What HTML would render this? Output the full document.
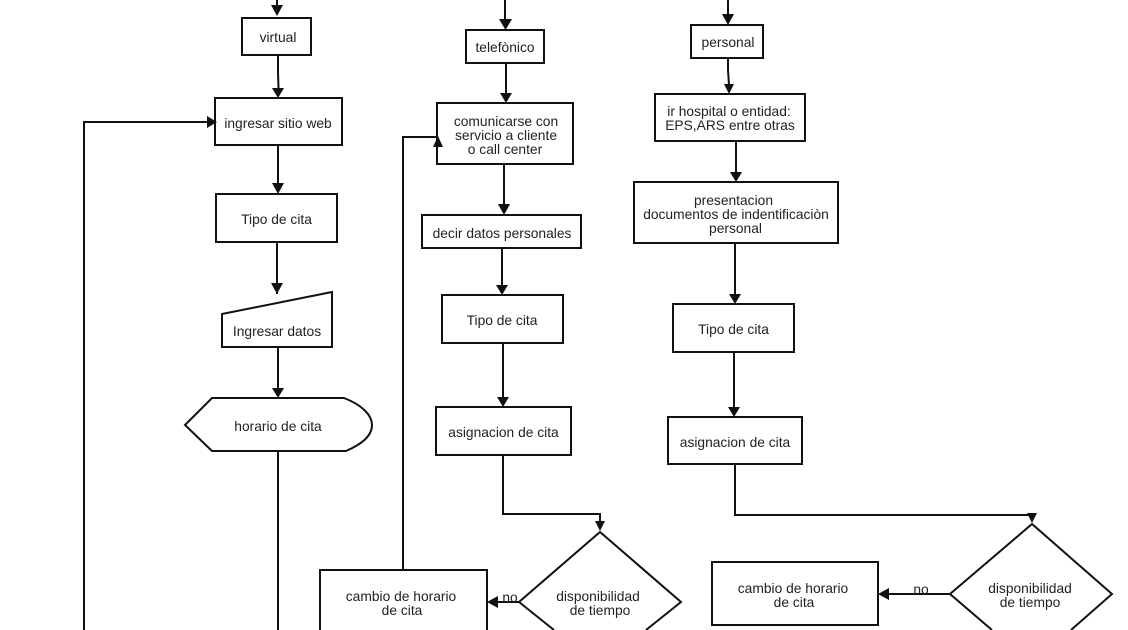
<!DOCTYPE html>
<html><head><meta charset="utf-8"><style>
html,body{margin:0;padding:0;background:#fff;width:1128px;height:630px;overflow:hidden}
svg{display:block}
text{font-family:"Liberation Sans",sans-serif;font-size:13.8px;fill:#222;text-anchor:middle}
.b{fill:#fff;stroke:#111;stroke-width:2}
.l{fill:none;stroke:#111;stroke-width:2}
.a{fill:#111;stroke:none}
</style></head><body>
<svg width="1128" height="630" viewBox="0 0 1128 630" xmlns="http://www.w3.org/2000/svg">
<!-- connectors -->
<path class="l" d="M277 0V8M278 55V72L278.500 88M278 145V184M277 242V294M278 347V390M278 451V630"/>
<path class="l" d="M84 630V122H208"/>
<path class="l" d="M505 0V22M506 63V95M504 164V206M502 248V287M503 343V399M503 455V514H600V522"/>
<path class="l" d="M403 570V137H437"/>
<path class="l" d="M728 0V16M728 58V70L729 85M736 141V173M735 243V295M734 352V408M735 464V515H1032V516"/>
<path class="l" d="M519 602H495M950 594H885"/>
<!-- shapes -->
<rect class="b" x="242" y="18" width="69" height="37"/>
<rect class="b" x="215" y="98" width="127" height="47"/>
<rect class="b" x="216" y="194" width="121" height="48"/>
<path class="b" d="M222 314L332 292V347H222Z"/>
<path class="b" d="M185 425L212 398H344C362 405 372 415 372 425C372 436 362 444 346 451H212Z"/>
<rect class="b" x="466" y="30" width="78" height="33"/>
<rect class="b" x="437" y="103" width="136" height="61"/>
<rect class="b" x="422" y="215" width="159" height="33"/>
<rect class="b" x="442" y="295" width="121" height="48"/>
<rect class="b" x="436" y="407" width="135" height="48"/>
<path class="b" d="M554 630L519 602L600 532L681 602L646 630"/>
<path class="b" d="M320 630V570H487V630"/>
<rect class="b" x="691" y="25" width="72" height="33"/>
<rect class="b" x="655" y="94" width="150" height="47"/>
<rect class="b" x="634" y="182" width="204" height="61"/>
<rect class="b" x="673" y="304" width="121" height="48"/>
<rect class="b" x="668" y="417" width="134" height="47"/>
<path class="b" d="M992 630L950 594L1032 524L1112 594L1071 630"/>
<rect class="b" x="712" y="562" width="166" height="63"/>
<!-- arrowheads -->
<path class="a" d="M271 5H283L277 16ZM272 88H284L278 98ZM272 183H284L278 194ZM271 283H283L277 294ZM272 388H284L278 398Z"/>
<path class="a" d="M207 116V128L217 122Z"/>
<path class="a" d="M499 19H512L505.500 30ZM500 93H512L506 103ZM498 204H510L504 215ZM496 285H508L502 295ZM497 397H509L503 407ZM595 521H605L600 531Z"/>
<path class="a" d="M433 147H443L438 136Z"/>
<path class="a" d="M722 14H734L728 25ZM724 84H734L729 94ZM730 172H742L736 182ZM729 294H741L735 304ZM728 407H740L734 417ZM1027 513H1037L1032 523Z"/>
<path class="a" d="M498 596V608L487 602ZM889 588V600L878 594Z"/>
<!-- labels -->
<text x="278" y="42">virtual</text>
<text x="278" y="128">ingresar sitio web</text>
<text x="276.500" y="224">Tipo de cita</text>
<text x="277" y="336">Ingresar datos</text>
<text x="278" y="431">horario de cita</text>
<text x="505" y="52">telefònico</text>
<text x="506" y="126">comunicarse con</text>
<text x="506" y="140">servicio a cliente</text>
<text x="505" y="154">o call center</text>
<text x="502" y="238">decir datos personales</text>
<text x="502" y="325">Tipo de cita</text>
<text x="503.500" y="437">asignacion de cita</text>
<text x="598" y="601">disponibilidad</text>
<text x="600" y="615">de tiempo</text>
<text x="401" y="601">cambio de horario</text>
<text x="402" y="615">de cita</text>
<text x="510" y="602">no</text>
<text x="728" y="47">personal</text>
<text x="729" y="116">ir hospital o entidad:</text>
<text x="730" y="130">EPS,ARS entre otras</text>
<text x="733.500" y="205">presentacion</text>
<text x="736" y="219">documentos de indentificaciòn</text>
<text x="735.500" y="233">personal</text>
<text x="733.500" y="334">Tipo de cita</text>
<text x="735" y="447">asignacion de cita</text>
<text x="1030" y="593">disponibilidad</text>
<text x="1030" y="607">de tiempo</text>
<text x="793" y="593">cambio de horario</text>
<text x="794" y="607">de cita</text>
<text x="921" y="594">no</text>
</svg>
</body></html>
